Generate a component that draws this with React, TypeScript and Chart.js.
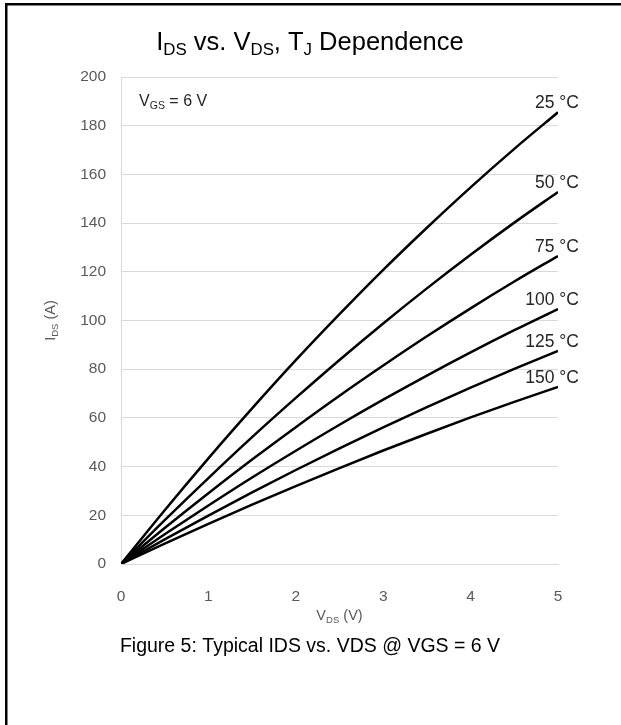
import React, { useEffect, useRef } from 'react';
import { Chart, registerables } from 'chart.js';

Chart.register(...registerables);

// ---- data ----
const vds = [0, 0.5, 1, 1.5, 2, 2.5, 3, 3.5, 4, 4.5, 5];
const tempLabels = ['25 °C', '50 °C', '75 °C', '100 °C', '125 °C', '150 °C'];
const ids25 = [0, 22.1, 43.4, 63.9, 83.7, 102.6, 120.8, 138.1, 154.7, 170.5, 185.5];
const ids50 = [0, 18.0, 35.3, 52.1, 68.2, 83.8, 98.8, 113.2, 127.0, 140.2, 152.8];
const ids75 = [0, 14.8, 29.1, 42.9, 56.2, 69.1, 81.5, 93.5, 105.0, 116.0, 126.5];
const ids100 = [0, 12.2, 24.0, 35.5, 46.5, 57.2, 67.5, 77.4, 86.9, 96.0, 104.7];
const ids125 = [0, 10.1, 19.9, 29.4, 38.6, 47.5, 56.1, 64.4, 72.4, 80.1, 87.5];
const ids150 = [0, 8.4, 16.5, 24.4, 32.0, 39.4, 46.6, 53.5, 60.2, 66.6, 72.7];
const seriesValues = [ids25, ids50, ids75, ids100, ids125, ids150];
const xMin = 0, xMax = 5, xStep = 1;
const yMin = 0, yMax = 200, yStep = 20;

const FONT = '"Liberation Sans", Arial, sans-serif';

type Part = [string, boolean];

function measureRich(ctx: CanvasRenderingContext2D, parts: Part[], size: number) {
  let w = 0;
  for (const [t, sub] of parts) {
    ctx.font = `${sub ? size * 0.66 : size}px ${FONT}`;
    w += ctx.measureText(t).width;
  }
  return w;
}

function drawRich(
  ctx: CanvasRenderingContext2D,
  parts: Part[],
  x: number,
  y: number,
  size: number,
  align: 'left' | 'center' | 'right',
  color: string
) {
  const w = measureRich(ctx, parts, size);
  let cx = align === 'left' ? x : align === 'center' ? x - w / 2 : x - w;
  ctx.fillStyle = color;
  ctx.textAlign = 'left';
  ctx.textBaseline = 'alphabetic';
  for (const [t, sub] of parts) {
    ctx.font = `${sub ? size * 0.66 : size}px ${FONT}`;
    ctx.fillText(t, cx, sub ? y + size * 0.2 : y);
    cx += ctx.measureText(t).width;
  }
}

const decorPlugin = {
  id: 'decor',
  afterDraw(chart: any) {
    const ctx: CanvasRenderingContext2D = chart.ctx;
    const xs = chart.scales.x;
    const ys = chart.scales.y;
    const area = chart.chartArea;
    ctx.save();
    // frame (left and top)
    ctx.fillStyle = '#000';
    ctx.fillRect(5, 3, 2.5, 725);
    ctx.fillRect(5, 3, 621, 2.5);

    // title
    drawRich(
      ctx,
      [['I', false], ['DS', true], [' vs. V', false], ['DS', true], [', T', false], ['J', true], [' Dependence', false]],
      310, 50, 25.5, 'center', '#000'
    );

    // VGS label
    drawRich(ctx, [['V', false], ['GS', true], [' = 6 V', false]], area.left + 18, area.top + 29, 16, 'left', '#262626');

    // curve labels
    seriesValues.forEach((vals, i) => {
      const end = vals[vals.length - 1];
      const px = xs.getPixelForValue(vds[vds.length - 1]);
      const py = ys.getPixelForValue(end);
      ctx.font = `17.5px ${FONT}`;
      ctx.fillStyle = '#262626';
      ctx.textAlign = 'right';
      ctx.textBaseline = 'middle';
      ctx.fillText(tempLabels[i], px + 21, py - 9);
    });

    // axis titles
    drawRich(ctx, [['V', false], ['DS', true], [' (V)', false]], (area.left + area.right) / 2, 620, 14.5, 'center', '#595959');
    ctx.save();
    ctx.translate(55, (area.top + area.bottom) / 2);
    ctx.rotate(-Math.PI / 2);
    drawRich(ctx, [['I', false], ['DS', true], [' (A)', false]], 0, 0, 14.5, 'center', '#595959');
    ctx.restore();

    // caption
    ctx.font = `19.5px ${FONT}`;
    ctx.fillStyle = '#000';
    ctx.textAlign = 'center';
    ctx.textBaseline = 'alphabetic';
    ctx.fillText('Figure 5: Typical IDS vs. VDS @ VGS = 6 V', 310, 652);
    ctx.restore();
  },
};

export default function App() {
  const ref = useRef<HTMLCanvasElement | null>(null);
  useEffect(() => {
    if (!ref.current) return;
    const datasets = seriesValues.map((vals, i) => ({
      label: tempLabels[i],
      data: vds.map((v, j) => ({ x: v, y: vals[j] })),
      borderColor: '#000',
      backgroundColor: '#000',
      borderWidth: 2.5,
      pointRadius: 0,
      tension: 0.4,
      cubicInterpolationMode: 'monotone' as const,
      fill: false,
    }));
    const chart = new Chart(ref.current, {
      type: 'line',
      data: { datasets },
      options: {
        responsive: false,
        animation: false,
        layout: { padding: { top: 77, right: 63, left: 0, bottom: 0 } },
        plugins: { legend: { display: false }, tooltip: { enabled: false }, title: { display: false } },
        scales: {
          x: {
            type: 'linear',
            min: xMin,
            max: xMax,
            ticks: { stepSize: xStep, color: '#595959', font: { family: FONT, size: 15.5 }, padding: 15 },
            grid: { display: false },
            border: { display: true, color: '#d9d9d9', width: 1 },
            afterFit: (s: any) => { s.height = 161; },
          },
          y: {
            type: 'linear',
            min: yMin,
            max: yMax,
            ticks: { stepSize: yStep, color: '#595959', font: { family: FONT, size: 15.5 }, padding: 15 },
            grid: { color: '#d9d9d9', lineWidth: 1, drawTicks: false },
            border: { display: true, color: '#d9d9d9', width: 1 },
            afterFit: (s: any) => { s.width = 121; },
          },
        },
      },
      plugins: [decorPlugin],
    });
    return () => chart.destroy();
  }, []);
  return (
    <div style={{ position: 'absolute', left: 0, top: 0, width: 621, height: 725, background: '#fff' }}>
      <canvas ref={ref} width={621} height={725} style={{ display: 'block' }} />
    </div>
  );
}
